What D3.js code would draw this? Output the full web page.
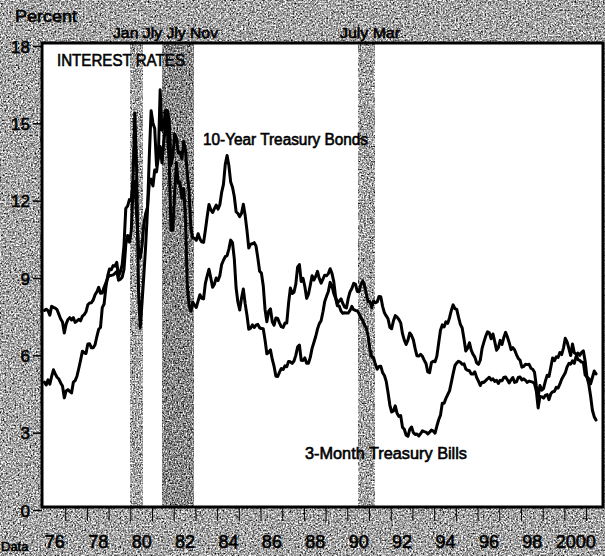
<!DOCTYPE html>
<html><head><meta charset="utf-8">
<script src="https://cdn.jsdelivr.net/npm/d3@7"></script>
<style>html,body{margin:0;padding:0;background:#fff;}svg{display:block}</style>
</head><body>
<script>
// ---------- data (monthly averages) ----------
const startYear = 1976;
const bond10 = [
 7.74,7.79,7.73,7.56,7.90,7.86,7.83,7.77,7.59,7.41,7.29,6.87,
 7.21,7.39,7.46,7.37,7.46,7.28,7.33,7.40,7.34,7.52,7.58,7.69,
 7.96,8.03,8.04,8.15,8.35,8.46,8.64,8.41,8.42,8.64,8.81,9.01,
 9.10,9.10,9.12,9.18,9.25,8.91,8.95,9.03,9.33,10.30,10.65,10.39,
 10.80,12.41,12.75,11.47,10.18,9.78,10.25,11.10,11.51,11.75,12.68,12.84,
 12.57,13.19,13.12,13.68,14.10,13.47,14.28,14.94,15.50,15.15,13.39,13.72,
 14.59,14.43,13.86,13.87,13.62,14.30,13.95,13.06,12.34,10.91,10.55,10.54,
 10.46,10.72,10.51,10.40,10.38,10.85,11.38,11.85,11.65,11.54,11.69,11.83,
 11.67,11.84,12.32,12.63,13.41,13.75,13.36,12.72,12.52,12.16,11.57,11.50,
 11.38,11.51,11.86,11.43,10.85,10.16,10.31,10.33,10.37,10.24,9.78,9.26,
 9.19,8.70,7.78,7.30,7.71,7.80,7.30,7.17,7.45,7.43,7.25,7.11,
 7.08,7.25,7.25,8.02,8.61,8.40,8.45,8.76,9.42,9.52,8.86,8.99,
 8.67,8.21,8.37,8.72,9.09,8.92,9.06,9.26,8.98,8.80,8.96,9.11,
 9.09,9.17,9.36,9.18,8.86,8.28,8.02,8.11,8.19,8.01,7.87,7.84,
 8.21,8.47,8.59,8.79,8.76,8.48,8.47,8.75,8.89,8.72,8.39,8.08,
 8.09,7.85,8.11,8.04,8.07,8.28,8.27,7.90,7.65,7.53,7.42,7.09,
 7.03,7.34,7.54,7.48,7.39,7.26,6.84,6.59,6.42,6.59,6.87,6.77,
 6.60,6.26,5.98,5.97,6.04,5.96,5.81,5.68,5.36,5.33,5.72,5.77,
 5.75,5.97,6.48,6.97,7.18,7.10,7.30,7.24,7.46,7.74,7.96,7.81,
 7.78,7.47,7.20,7.06,6.63,6.17,6.28,6.49,6.20,6.04,5.93,5.71,
 5.65,5.81,6.27,6.51,6.74,6.91,6.87,6.64,6.83,6.53,6.20,6.30,
 6.58,6.42,6.69,6.89,6.71,6.49,6.22,6.30,6.21,6.03,5.88,5.81,
 5.54,5.57,5.65,5.64,5.65,5.50,5.46,5.34,4.81,4.40,4.83,4.65,
 4.72,5.00,5.23,5.18,5.54,5.90,5.79,5.94,5.92,6.11,6.03,6.28,
 6.66,6.52,6.26,5.99,6.44,6.10,6.05,5.83,5.80,5.74,5.72,5.24,
 5.16,5.10,4.89,5.14,5.39,5.28
];
const bill3 = [
 4.96,4.85,5.05,4.88,5.18,5.44,5.28,5.15,5.08,4.93,4.81,4.35,
 4.62,4.67,4.60,4.54,4.96,5.02,5.19,5.49,5.81,6.16,6.10,6.07,
 6.44,6.45,6.29,6.29,6.41,6.73,7.01,7.08,7.85,7.99,8.64,9.08,
 9.35,9.32,9.48,9.46,9.61,9.06,9.24,9.52,10.26,11.70,11.79,12.04,
 12.00,12.86,15.40,13.20,8.58,7.07,8.06,9.13,10.27,11.62,13.73,15.49,
 15.02,14.79,13.36,13.69,16.30,14.73,14.95,15.51,14.70,13.54,10.86,10.85,
 12.28,13.48,12.68,12.70,12.09,12.47,11.35,8.68,7.92,7.71,8.07,7.94,
 7.86,8.11,8.35,8.21,8.19,8.79,9.08,9.34,9.00,8.64,8.76,9.00,
 8.90,9.09,9.52,9.69,9.83,9.87,10.12,10.47,10.37,9.74,8.61,8.06,
 7.76,8.22,8.57,8.00,7.56,7.01,7.05,7.18,7.08,7.17,7.20,7.07,
 7.04,7.03,6.59,6.06,6.12,6.21,5.84,5.57,5.19,5.18,5.35,5.49,
 5.45,5.59,5.56,5.76,5.75,5.69,5.78,6.00,6.32,6.40,5.81,5.80,
 5.90,5.69,5.69,5.92,6.27,6.50,6.73,7.02,7.23,7.34,7.68,8.09,
 8.29,8.48,8.83,8.70,8.40,8.22,7.92,7.91,7.72,7.63,7.65,7.64,
 7.64,7.74,7.90,7.77,7.74,7.73,7.62,7.45,7.36,7.17,7.06,6.74,
 6.22,5.94,5.91,5.65,5.46,5.57,5.58,5.33,5.22,4.99,4.56,4.07,
 3.80,3.84,4.04,3.75,3.63,3.66,3.21,3.13,2.91,2.86,3.13,3.22,
 3.00,2.93,2.95,2.87,2.96,3.07,3.04,3.02,2.95,3.02,3.10,3.06,
 2.98,3.25,3.50,3.68,4.14,4.14,4.33,4.48,4.62,4.95,5.29,5.60,
 5.71,5.77,5.73,5.65,5.67,5.47,5.42,5.40,5.28,5.28,5.36,5.14,
 5.00,4.83,4.96,4.95,5.02,5.09,5.15,5.05,5.09,4.99,5.03,4.91,
 5.03,5.01,5.14,5.16,5.05,4.93,5.05,5.14,4.95,4.97,5.14,5.16,
 5.04,5.09,5.03,4.95,5.00,4.98,4.96,4.90,4.61,3.96,4.41,4.39,
 4.34,4.45,4.48,4.28,4.51,4.59,4.60,4.76,4.73,4.88,5.07,5.20,
 5.32,5.55,5.69,5.66,5.79,5.69,5.96,6.09,6.00,6.11,6.17,5.77,
 5.15,4.88,4.42,3.87,3.62,3.49
];
const recessionStarts = [1980.0, 1981.5, 1990.5];
const recessionEnds   = [1980.58, 1982.92, 1991.25];
const recessionLabels = ["Jan Jly Jly Nov", "July Mar"];
const yTicks = [0, 3, 6, 9, 12, 15, 18];
const xTickYears = d3.range(1977, 2002);
const xLabelYears = [1976, 1978, 1980, 1982, 1984, 1986, 1988, 1990, 1992, 1994, 1996, 1998, 2000];
const xLabels = ["76","78","80","82","84","86","88","90","92","94","96","98","2000"];
const seriesNames = ["10-Year Treasury Bonds", "3-Month Treasury Bills"];
const chartTitle = "INTEREST RATES";
const unitLabel = "Percent";
const sourceLabel = "Data";

// ---------- layout ----------
const W = 605, H = 556;
const frame = {left: 42, top: 43, right: 603, bottom: 507};
const x = d3.scaleLinear().domain([1976, 2001.78]).range([43.5, 603]);
const y = d3.scaleLinear().domain([0, 18]).range([510, 46]);
const font = "'Liberation Sans', Arial, Helvetica, sans-serif";

const svg = d3.select("body").append("svg").attr("width", W).attr("height", H);
const defs = svg.append("defs");

function noiseFilter(id, intercept, freq, seed) {
  const f = defs.append("filter").attr("id", id)
    .attr("x", 0).attr("y", 0).attr("width", "100%").attr("height", "100%")
    .attr("filterUnits", "objectBoundingBox")
    .attr("color-interpolation-filters", "sRGB");
  f.append("feTurbulence").attr("type", "fractalNoise").attr("baseFrequency", freq)
    .attr("numOctaves", 2).attr("seed", seed).attr("result", "t");
  f.append("feColorMatrix").attr("type", "matrix")
    .attr("values", "0.33 0.33 0.33 0 0  0.33 0.33 0.33 0 0  0.33 0.33 0.33 0 0  0 0 0 0 1");
  const ct = f.append("feComponentTransfer");
  ["feFuncR", "feFuncG", "feFuncB"].forEach(n =>
    ct.append(n).attr("type", "linear").attr("slope", 3).attr("intercept", intercept));
}
noiseFilter("bgNoise", -0.84, 0.6, 7);
noiseFilter("bandNoise", -0.84, 0.65, 3);
noiseFilter("bandNoiseDark", -0.95, 0.65, 5);

defs.append("clipPath").attr("id", "plotClip").append("rect")
  .attr("x", frame.left).attr("y", frame.top)
  .attr("width", frame.right - frame.left).attr("height", frame.bottom - frame.top);

// background texture
svg.append("rect").attr("x", 0).attr("y", 0).attr("width", W).attr("height", H)
  .attr("filter", "url(#bgNoise)");
// plot area
svg.append("rect").attr("x", frame.left).attr("y", frame.top)
  .attr("width", frame.right - frame.left).attr("height", frame.bottom - frame.top)
  .attr("fill", "#fff");

// recession bands
svg.append("g").attr("clip-path", "url(#plotClip)")
  .selectAll("rect").data(recessionStarts).join("rect")
  .attr("x", (d) => x(d))
  .attr("width", (d, i) => x(recessionEnds[i]) - x(d))
  .attr("y", frame.top).attr("height", frame.bottom - frame.top)
  .attr("filter", (d, i) => i === 1 ? "url(#bandNoiseDark)" : "url(#bandNoise)");

// lines
const toPts = arr => arr.map((v, i) => [startYear + i / 12 + 1 / 24, v]);
const line = d3.line().x(d => x(d[0])).y(d => y(d[1])).curve(d3.curveLinear);
const lg = svg.append("g").attr("clip-path", "url(#plotClip)");
[bill3, bond10].forEach(s => {
  lg.append("path").attr("d", line(toPts(s)))
    .attr("fill", "none").attr("stroke", "#000").attr("stroke-width", 3)
    .attr("stroke-linejoin", "round").attr("stroke-linecap", "round");
});

// frame
svg.append("rect").attr("x", frame.left).attr("y", frame.top)
  .attr("width", frame.right - frame.left).attr("height", frame.bottom - frame.top)
  .attr("fill", "none").attr("stroke", "#000").attr("stroke-width", 3);

const textStroke = sel => sel.attr("stroke", "#000").attr("stroke-width", 0.6).attr("paint-order", "stroke");

// y axis
const yAxis = svg.append("g").attr("transform", `translate(${frame.left},0)`)
  .call(d3.axisLeft(y).tickValues(yTicks).tickSize(9).tickPadding(3).tickFormat(d3.format("d")));
yAxis.select(".domain").remove();
yAxis.selectAll("line").attr("stroke", "#000").attr("stroke-width", 1.5);
yAxis.selectAll("text").attr("font-family", font).attr("font-size", 17).attr("fill", "#000")
  .attr("dy", "0.36em").call(textStroke);

// x axis ticks (year boundaries)
const xAxis = svg.append("g").attr("transform", `translate(0,${frame.bottom})`)
  .call(d3.axisBottom(x).tickValues(xTickYears).tickSize(14).tickFormat(""));
xAxis.select(".domain").remove();
xAxis.selectAll("line").attr("stroke", "#000").attr("stroke-width", 1);
// x labels (mid-year)
const xLab = svg.append("g").attr("transform", `translate(0,${frame.bottom})`)
  .call(d3.axisBottom(x).tickValues(xLabelYears.map(v => v + 0.5)).tickSize(0).tickPadding(28)
    .tickFormat((d, i) => xLabels[i]));
xLab.select(".domain").remove();
xLab.selectAll("text").attr("font-family", font).attr("font-size", 18).attr("fill", "#000").call(textStroke);

// texts
function label(t, x0, yb, size, len) {
  const el = svg.append("text").attr("x", x0).attr("y", yb).text(t)
    .attr("font-family", font).attr("font-size", size).attr("fill", "#000").call(textStroke);
  if (len) el.attr("textLength", len).attr("lengthAdjust", "spacingAndGlyphs");
  return el;
}
label(unitLabel, 15, 22, 17, 62);
label(recessionLabels[0], 113, 38, 14, 105);
label(recessionLabels[1], 340, 38, 14, 60);
label(chartTitle, 57, 66, 17, 128);
label(seriesNames[0], 203, 145, 16, 165);
label(seriesNames[1], 305, 459, 16, 162);
label(sourceLabel, 1, 551, 13);
</script>
</body></html>
